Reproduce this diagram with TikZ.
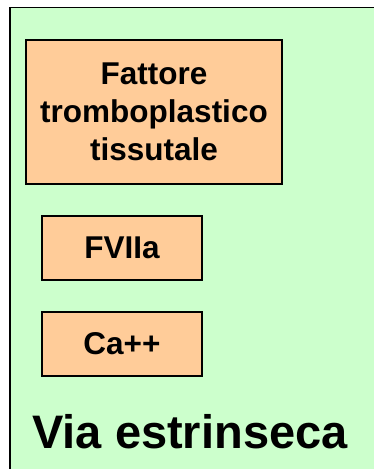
\documentclass[tikz,border=0pt]{standalone}
\usepackage{fontspec}
\setmainfont{Liberation Sans}
\definecolor{bggreen}{HTML}{CCFFCC}
\definecolor{boxorange}{HTML}{FFCC99}
\tikzset{
  factorbox/.style={draw=black, line width=1.4pt, fill=boxorange, inner sep=0pt,
    align=center, font=\fontsize{31.5}{38.2}\selectfont\bfseries},
  titletext/.style={inner sep=0pt, font=\fontsize{47}{56}\selectfont\bfseries}
}
\begin{document}
\begin{tikzpicture}[x=1pt,y=-1pt]
\useasboundingbox (0,0) rectangle (374,469);
\fill[bggreen] (10,7.5) rectangle (380,475);
\draw[line width=1.7pt] (10.2,475) -- (10.2,7.5) -- (380,7.5);
\node[factorbox, minimum width=256pt, minimum height=144pt] (tf) at (154,112)
  {Fattore\\tromboplastico\\tissutale};
\node[factorbox, minimum width=160pt, minimum height=64pt] (f7) at (122,248) {FVIIa};
\node[factorbox, minimum width=160pt, minimum height=64pt] (ca) at (122,344) {Ca++};
\node[titletext, anchor=base] (via) at (190,448) {Via estrinseca};
\end{tikzpicture}
\end{document}
